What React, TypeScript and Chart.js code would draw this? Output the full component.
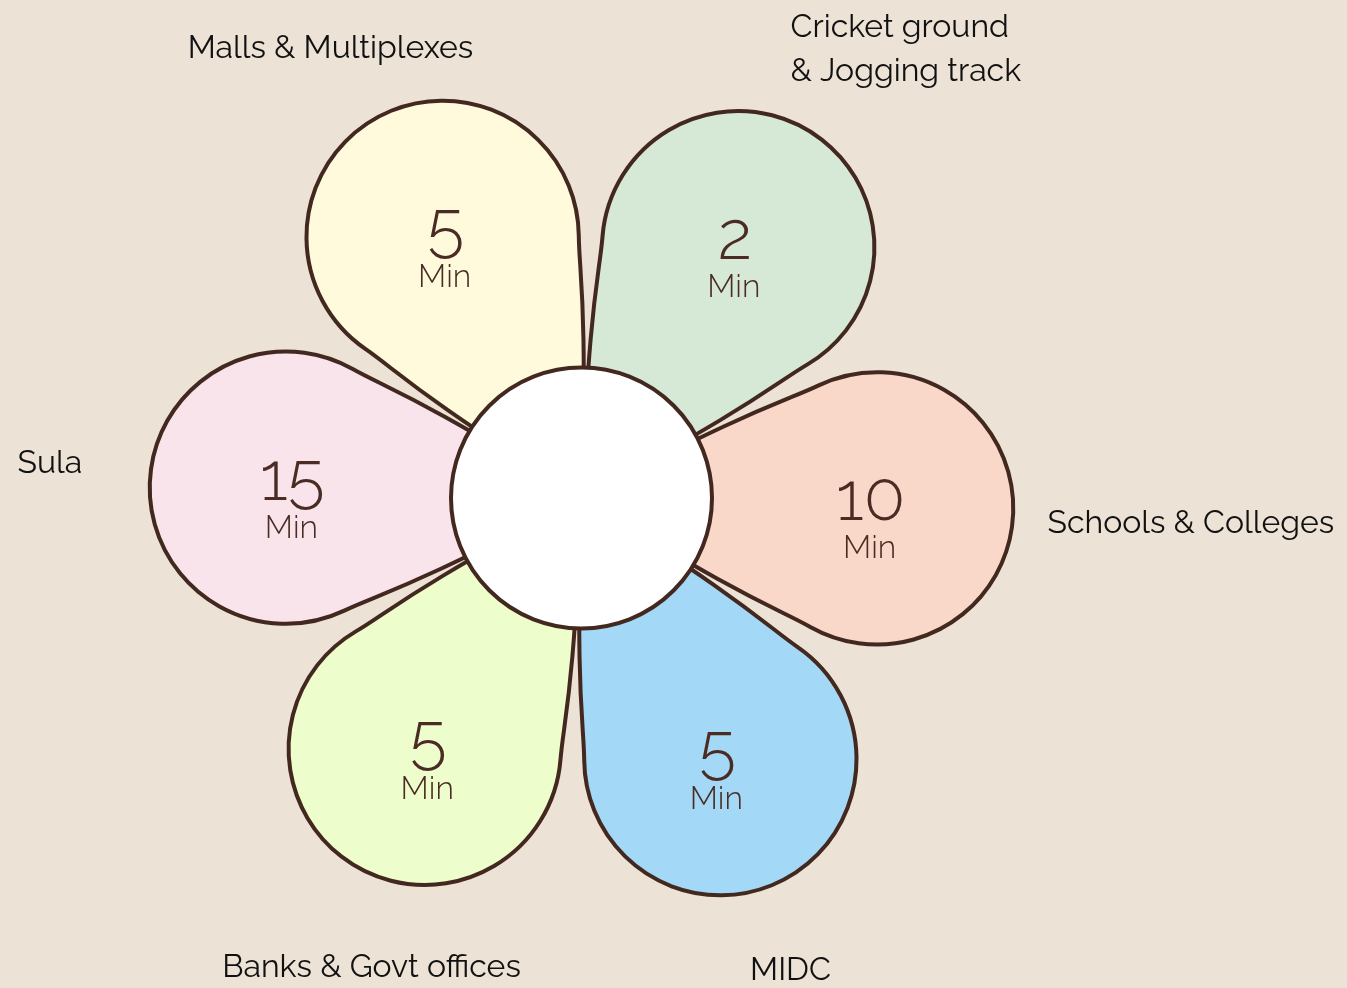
import React, { useEffect, useRef } from "react";
import { Chart, registerables } from "chart.js";

Chart.register(...registerables);

// ---- data ----
const categories: string[][] = [
  ["Malls & Multiplexes"],
  ["Cricket ground", "& Jogging track"],
  ["Schools & Colleges"],
  ["MIDC"],
  ["Banks & Govt offices"],
  ["Sula"],
];
const minutes: number[] = [5, 2, 10, 5, 5, 15];
const unitLabel = "Min";
const petalColors: string[] = ["#FFFADC", "#D6E9D6", "#F9D8C9", "#A3D8F6", "#EEFDCC", "#F9E4EC"];

// ---- style / layout ----
const BG = "#ECE2D6";
const STROKE = "#43281F";
const INNER_TEXT = "#4A2C24";
const FONT = "Raleway, Lato, 'Open Sans', sans-serif";
// label anchors relative to flower centre (text placement, not marks)
const labelLayout = [
  { dx: -251, dy: -440, align: "center" },
  { dx: 209, dy: -461, align: "left" },
  { dx: 466, dy: 35, align: "left" },
  { dx: 209, dy: 482, align: "center" },
  { dx: -210, dy: 479, align: "center" },
  { dx: -564, dy: -25, align: "left" },
];

function petalPath(ctx: CanvasRenderingContext2D, cx: number, cy: number, theta: number, d: number, r: number) {
  const a = Math.asin(r / d);
  const L = Math.sqrt(d * d - r * r);
  const c = Math.cos(theta), s = Math.sin(theta);
  const P = (u: number, v: number): [number, number] => [cx + u * c - v * s, cy + u * s + v * c];
  const tx = L * Math.cos(a), ty = L * Math.sin(a);
  const k1 = 0.75 * L, k2 = 0.15 * L, startDir = 0.52;
  ctx.beginPath();
  ctx.moveTo(...P(0, 0));
  ctx.bezierCurveTo(
    ...P(k1 * Math.cos(startDir), k1 * Math.sin(startDir)),
    ...P(tx - k2 * Math.cos(a), ty - k2 * Math.sin(a)),
    ...P(tx, ty)
  );
  const [ox, oy] = P(d, 0);
  ctx.arc(ox, oy, r, theta + Math.PI / 2 + a, theta - Math.PI / 2 - a, true);
  ctx.bezierCurveTo(
    ...P(tx - k2 * Math.cos(a), -(ty - k2 * Math.sin(a))),
    ...P(k1 * Math.cos(startDir), -k1 * Math.sin(startDir)),
    ...P(0, 0)
  );
  ctx.closePath();
}

const flowerPlugin = {
  id: "flower",
  beforeDraw(chart: any) {
    const ctx = chart.ctx;
    ctx.save();
    ctx.fillStyle = BG;
    ctx.fillRect(0, 0, chart.width, chart.height);
    ctx.restore();
  },
  afterDatasetsDraw(chart: any) {
    const ctx: CanvasRenderingContext2D = chart.ctx;
    const meta = chart.getDatasetMeta(0);
    const arcs = meta.data;
    if (!arcs.length) return;
    const first = arcs[0].getProps(["x", "y", "innerRadius", "outerRadius"], true);
    const cx = first.x, cy = first.y, R = first.outerRadius, inner = first.innerRadius;
    const d = R * 0.68, pr = R * 0.313;
    ctx.save();
    ctx.lineJoin = "round";
    ctx.lineWidth = 4;
    ctx.strokeStyle = STROKE;
    arcs.forEach((arc: any, i: number) => {
      const p = arc.getProps(["startAngle", "endAngle"], true);
      const theta = (p.startAngle + p.endAngle) / 2;
      petalPath(ctx, cx, cy, theta, d, pr);
      ctx.fillStyle = petalColors[i];
      ctx.fill();
      ctx.stroke();
    });
    // centre disc
    ctx.beginPath();
    ctx.arc(cx, cy, inner, 0, Math.PI * 2);
    ctx.fillStyle = "#FFFFFF";
    ctx.fill();
    ctx.stroke();

    // numbers
    ctx.fillStyle = INNER_TEXT;
    ctx.textAlign = "center";
    ctx.textBaseline = "alphabetic";
    arcs.forEach((arc: any, i: number) => {
      const p = arc.getProps(["startAngle", "endAngle"], true);
      const theta = (p.startAngle + p.endAngle) / 2;
      const px = cx + R * 0.665 * Math.cos(theta);
      const py = cy + d * Math.sin(theta);
      ctx.font = `300 68px ${FONT}`;
      ctx.fillText(String(minutes[i]), px, py + 12);
      ctx.font = `300 32px ${FONT}`;
      ctx.fillText(unitLabel, px - 1, py + 50);
    });

    // outside labels
    ctx.fillStyle = "#111111";
    ctx.font = `400 32px ${FONT}`;
    categories.forEach((lines, i) => {
      const lay = labelLayout[i];
      ctx.textAlign = lay.align as CanvasTextAlign;
      lines.forEach((line, j) => {
        ctx.fillText(line, cx + lay.dx, cy + lay.dy + j * 44);
      });
    });
    ctx.restore();
  },
};

export default function App() {
  const ref = useRef<HTMLCanvasElement | null>(null);
  useEffect(() => {
    if (!ref.current) return;
    const chart = new Chart(ref.current, {
      type: "doughnut",
      data: {
        labels: categories.map((l) => l.join(" ")),
        datasets: [
          {
            data: categories.map(() => 1),
            backgroundColor: "rgba(0,0,0,0)",
            borderWidth: 0,
          },
        ],
      },
      options: {
        responsive: false,
        animation: false,
        cutout: "30%",
        rotation: -58,
        layout: { padding: { left: 0, right: 184, top: 63, bottom: 55 } },
        plugins: { legend: { display: false }, tooltip: { enabled: false } },
        events: [],
      },
      plugins: [flowerPlugin],
    });
    return () => chart.destroy();
  }, []);
  return (
    <div style={{ position: "fixed", left: 0, top: 0, width: 1347, height: 988, background: BG }}>
      <canvas ref={ref} width={1347} height={988} style={{ display: "block" }} />
    </div>
  );
}
